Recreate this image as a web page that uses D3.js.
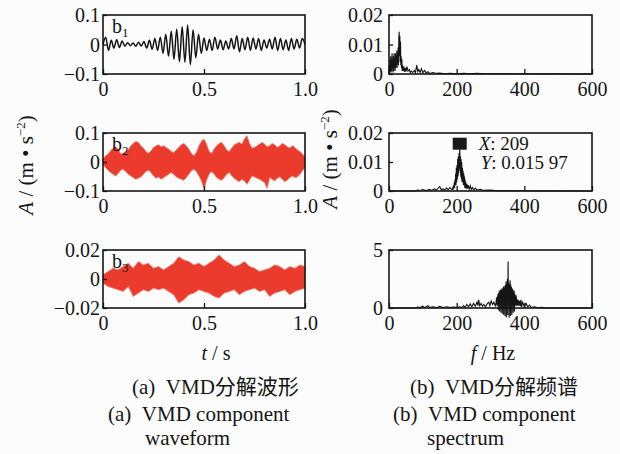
<!DOCTYPE html>
<html>
<head>
<meta charset="utf-8">
<script src="https://cdnjs.cloudflare.com/ajax/libs/d3/7.8.5/d3.min.js"></script>
<style>
body{margin:0;background:#fcfcfc;}
svg{display:block;font-family:"Liberation Serif","Times New Roman","Noto Sans CJK SC",serif;}
</style>
</head>
<body>
<script>
(function(){
'use strict';

// tick values and labels
var timeTicks = [0, 0.5, 1.0];
var timeTickLabels = ['0', '0.5', '1.0'];
var freqTicks = [0, 200, 400, 600];
var freqTickLabels = ['0', '200', '400', '600'];
var waveTicks12 = [-0.1, 0, 0.1];
var waveTickLabels12 = ['\u22120.1', '0', '0.1'];
var waveTicks3 = [-0.02, 0, 0.02];
var waveTickLabels3 = ['\u22120.02', '0', '0.02'];
var specTicks12 = [0, 0.01, 0.02];
var specTickLabels12 = ['0', '0.01', '0.02'];
var specTicks3 = [0, 5];
var specTickLabels3 = ['0', '5'];

// b1 waveform: successive peaks / troughs, evenly spread over 0..1 s
var b1Wave = [0, 0.025, -0.02, 0.014, -0.012, 0.016, -0.01, 0.012, -0.006, 0.006,
	-0.004, 0.005, -0.006, 0.008, -0.005, 0.01, -0.012, 0.014, -0.016, 0.02,
	-0.02, 0.025, -0.03, 0.035, -0.04, 0.045, -0.05, 0.052, -0.058, 0.06,
	-0.06, 0.066, -0.068, 0.05, -0.045, 0.035, -0.03, 0.022, -0.02, 0.018,
	-0.02, 0.025, -0.015, 0.015, -0.018, 0.012, -0.015, 0.02, -0.015, 0.03,
	-0.025, 0.02, -0.018, 0.025, -0.02, 0.022, -0.015, 0.02, -0.02, 0.015,
	-0.012, 0.018, -0.015, 0.025, -0.02, 0.02, -0.018, 0.015, -0.02, 0.02,
	-0.015, 0.018, -0.012, 0.02, 0];

// b2 waveform: upper and lower envelope every 0.0125 s
var b2Upper = [0.0098, 0.0214, 0.0272, 0.0387, 0.0480, 0.0526, 0.0445, 0.0272, 0.0295, 0.0364,
	0.0410, 0.0561, 0.0642, 0.0711, 0.0676, 0.0561, 0.0480, 0.0364, 0.0295, 0.0387,
	0.0503, 0.0561, 0.0595, 0.0526, 0.0561, 0.0503, 0.0445, 0.0364, 0.0329, 0.0410,
	0.0503, 0.0595, 0.0642, 0.0561, 0.0445, 0.0295, 0.0214, 0.0329, 0.0561, 0.0711,
	0.0792, 0.0618, 0.0364, 0.0295, 0.0445, 0.0561, 0.0642, 0.0676, 0.0561, 0.0410,
	0.0364, 0.0480, 0.0595, 0.0642, 0.0676, 0.0618, 0.0792, 0.0908, 0.0642, 0.0480,
	0.0503, 0.0561, 0.0618, 0.0676, 0.0618, 0.0526, 0.0561, 0.0642, 0.0595, 0.0503,
	0.0561, 0.0642, 0.0595, 0.0526, 0.0480, 0.0561, 0.0503, 0.0410, 0.0364, 0.0272, 0.0179];
var b2Lower = [-0.0075, -0.0191, -0.0283, -0.0364, -0.0422, -0.0480, -0.0399, -0.0283, -0.0249, -0.0329,
	-0.0422, -0.0480, -0.0538, -0.0595, -0.0561, -0.0514, -0.0422, -0.0329, -0.0283, -0.0364,
	-0.0480, -0.0561, -0.0514, -0.0595, -0.0538, -0.0480, -0.0422, -0.0364, -0.0422, -0.0514,
	-0.0561, -0.0595, -0.0630, -0.0538, -0.0422, -0.0306, -0.0249, -0.0329, -0.0480, -0.0653,
	-0.0942, -0.0630, -0.0422, -0.0329, -0.0422, -0.0538, -0.0595, -0.0630, -0.0538, -0.0422,
	-0.0364, -0.0480, -0.0561, -0.0630, -0.0676, -0.0595, -0.0653, -0.0769, -0.0630, -0.0480,
	-0.0514, -0.0561, -0.0595, -0.0653, -0.0711, -0.0908, -0.0538, -0.0595, -0.0653, -0.0561,
	-0.0514, -0.0595, -0.0676, -0.0630, -0.0538, -0.0480, -0.0538, -0.0514, -0.0422, -0.0306, -0.0191];

// b3 waveform: upper and lower envelope every 0.025 s
var b3Upper = [0.0029, 0.0051, 0.0074, 0.0063, 0.0086, 0.0109, 0.0074, 0.0120, 0.0097, 0.0109,
	0.0074, 0.0086, 0.0063, 0.0086, 0.0109, 0.0154, 0.0131, 0.0120, 0.0097, 0.0109,
	0.0086, 0.0109, 0.0131, 0.0166, 0.0131, 0.0109, 0.0086, 0.0097, 0.0120, 0.0086,
	0.0074, 0.0051, 0.0063, 0.0074, 0.0097, 0.0086, 0.0063, 0.0086, 0.0074, 0.0097, 0.0086];
var b3Lower = [-0.0029, -0.0051, -0.0063, -0.0074, -0.0086, -0.0051, -0.0120, -0.0097, -0.0074, -0.0086,
	-0.0063, -0.0074, -0.0063, -0.0086, -0.0109, -0.0166, -0.0143, -0.0109, -0.0097, -0.0074,
	-0.0086, -0.0097, -0.0120, -0.0131, -0.0097, -0.0086, -0.0074, -0.0109, -0.0086, -0.0074,
	-0.0063, -0.0086, -0.0074, -0.0120, -0.0097, -0.0086, -0.0074, -0.0109, -0.0086, -0.0074, -0.0063];

// spectra: [frequency Hz, amplitude]
var b1Spec = [[0,0],[1,0.003],[2,0.0005],[3,0.005],[4,0.001],[5,0.006],[6,0.0005],[7,0.004],
	[8,0.001],[9,0.007],[10,0.002],[11,0.005],[12,0.0005],[13,0.006],[14,0.001],[15,0.007],
	[16,0.002],[17,0.005],[18,0.001],[19,0.007],[20,0.002],[21,0.006],[22,0.003],[23,0.008],
	[24,0.002],[25,0.007],[26,0.004],[27,0.009],[28,0.003],[29,0.012],[30,0.0143],[31,0.006],
	[32,0.013],[33,0.004],[34,0.011],[35,0.003],[36,0.006],[37,0.002],[38,0.005],[39,0.001],
	[40,0.003],[42,0.001],[44,0.0025],[46,0.0008],[48,0.002],[50,0.0008],[53,0.0025],[56,0.001],
	[60,0.0015],[63,0.0005],[66,0.001],[70,0.0005],[75,0.0012],[78,0.0004],[82,0.003],[85,0.0008],
	[88,0.0015],[92,0.0005],[96,0.0018],[100,0.0004],[105,0.0012],[110,0.0003],[115,0.0008],
	[120,0.0002],[130,0.0005],[140,0.0002],[150,0.0003],[165,0.0001],[180,0.0002],[200,0.0001],
	[220,0.0002],[240,0.0001],[260,0.0002],[280,0.0001],[600,0]];
var b2Spec = [[0,0],[80,0],[85,0.0004],[90,0.0001],[100,0.0005],[110,0.0002],[120,0.0006],[125,0.0002],
	[135,0.0007],[140,0.0003],[150,0.0015],[155,0.0004],[160,0.0008],[165,0.0003],[170,0.001],
	[175,0.0004],[180,0.0012],[185,0.0006],[188,0.0005],[189,0.0015],[190,0.0005],[191,0.002],
	[192,0.001],[193,0.003],[194,0.001],[195,0.004],[196,0.002],[197,0.006],[198,0.002],[199,0.008],
	[200,0.003],[201,0.009],[202,0.004],[203,0.011],[204,0.005],[205,0.012],[206,0.006],[207,0.013],
	[208,0.008],[209,0.01597],[210,0.007],[211,0.012],[212,0.005],[213,0.011],[214,0.004],[215,0.01],
	[216,0.003],[217,0.008],[218,0.003],[219,0.007],[220,0.002],[221,0.006],[222,0.002],[223,0.005],
	[224,0.001],[225,0.004],[226,0.001],[227,0.003],[228,0.0008],[230,0.0025],[232,0.0008],
	[234,0.002],[237,0.0006],[240,0.0018],[243,0.0005],[246,0.0012],[250,0.0004],[255,0.001],
	[260,0.0003],[270,0.0006],[280,0.0002],[300,0.0003],[320,0.0001],[350,0.0001],[600,0]];
var b3Spec = [[0,0],[80,0],[85,0.1],[90,0.02],[100,0.15],[105,0.03],[115,0.2],[120,0.05],[130,0.1],
	[140,0.03],[150,0.15],[160,0.05],[170,0.1],[180,0.03],[190,0.08],[200,0.05],[210,0.1],[215,0.02],
	[220,0.2],[225,0.05],[230,0.3],[235,0.1],[240,0.35],[245,0.1],[250,0.4],[255,0.15],[260,0.5],
	[263,0.2],[265,0.7],[268,0.2],[272,0.4],[276,0.15],[280,0.3],[285,0.1],[290,0.35],[295,0.5],
	[298,0.2],[302,0.6],[306,0.3],[310,0.5],[314,0.2],[316,0.4],[318,0.9],[319,0.2],[320,1.0],
	[321,0.3],[322,1.2],[323,-0.2],[324,1.3],[325,0.4],[326,1.5],[327,-0.3],[328,1.4],[329,0.5],
	[330,1.6],[331,-0.4],[332,1.5],[333,0.6],[334,1.7],[335,-0.5],[336,1.6],[337,0.5],[338,1.8],
	[339,-0.6],[340,1.9],[341,0.6],[342,1.7],[343,-0.7],[344,2.0],[345,0.8],[346,2.3],[347,-0.8],
	[348,2.1],[349,0.7],[350,2.5],[351,-0.6],[352,4.0],[353,0.8],[354,2.2],[355,-0.85],[356,2.0],
	[357,0.7],[358,2.4],[359,-0.7],[360,2.0],[361,0.6],[362,1.8],[363,-0.6],[364,1.7],[365,0.5],
	[366,1.6],[367,-0.4],[368,1.4],[369,0.4],[370,1.5],[371,-0.3],[372,1.2],[373,0.3],[374,1.0],
	[375,0.2],[376,1.1],[377,0.2],[378,0.8],[380,0.2],[382,0.7],[384,0.2],[386,0.6],[388,0.15],
	[390,0.7],[392,0.1],[395,0.5],[400,0.1],[405,0.4],[410,0.1],[415,0.25],[420,0.05],[430,0.1],
	[440,0.02],[450,0.05],[460,0],[600,0]];

var peakFreq = 209;
var peakAmp = 0.01597;

var red = '#eb3b2d';
var ink = '#151515';

var svg = d3.select('body').append('svg')
	.attr('width', 620)
	.attr('height', 454);

var leftX = 103, rightX = 389;
var leftW = 202, rightW = 203;
var rowY = [15, 133, 250];
var rowH = 58;

function makePanel(x0, y0){
	return svg.append('g').attr('transform', 'translate(' + x0 + ',' + y0 + ')');
}

function drawAxes(g, xs, ys, w, h, xt, xl, yt, yl, yPad){
	var ax = g.append('g')
		.attr('transform', 'translate(0,' + h + ')')
		.call(d3.axisBottom(xs).tickValues(xt).tickFormat(function(d, i){ return xl[i]; })
			.tickSizeInner(-5).tickSizeOuter(0).tickPadding(8));
	var ay = g.append('g')
		.call(d3.axisLeft(ys).tickValues(yt).tickFormat(function(d, i){ return yl[i]; })
			.tickSizeInner(-4).tickSizeOuter(0).tickPadding(yPad));
	[ax, ay].forEach(function(a){
		a.select('.domain').remove();
		a.selectAll('line').attr('stroke', ink).attr('stroke-width', 1.3);
		a.selectAll('text').attr('fill', ink).style('font-size', '20px')
			.style('font-family', '"Liberation Serif", serif');
	});
	ay.selectAll('text').attr('dy', '0.34em');
	g.append('rect')
		.attr('width', w).attr('height', h)
		.attr('fill', 'none').attr('stroke', ink).attr('stroke-width', 1.6);
}

function panelLabel(g, sub){
	var t = g.append('text').attr('x', 9).attr('y', 18)
		.attr('fill', ink).style('font-size', '20px');
	t.append('tspan').text('b');
	t.append('tspan').attr('dy', 4).style('font-size', '13px').text(sub);
}

// ----- waveforms -----
var xt = d3.scaleLinear().domain([0, 1]).range([0, leftW]);

// b1
var g1 = makePanel(leftX, rowY[0]);
var y1 = d3.scaleLinear().domain([-0.1, 0.1]).range([rowH + 1, 0]);
g1.append('path')
	.datum(b1Wave)
	.attr('d', d3.line()
		.x(function(d, i){ return xt(i / (b1Wave.length - 1)); })
		.y(function(d){ return y1(d); })
		.curve(d3.curveMonotoneX))
	.attr('fill', 'none').attr('stroke', ink).attr('stroke-width', 1.5);
panelLabel(g1, '1');
drawAxes(g1, xt, y1, leftW, rowH + 1, timeTicks, timeTickLabels, waveTicks12, waveTickLabels12, 3);

function envelope(g, ys, upper, lower){
	var step = 1 / (upper.length - 1);
	var area = d3.area()
		.x(function(d, i){ return xt(i * step); })
		.y0(function(d, i){ return ys(lower[i]); })
		.y1(function(d){ return ys(d); });
	g.append('path')
		.datum(upper)
		.attr('d', area)
		.attr('fill', red)
		.attr('stroke', '#f07a6c').attr('stroke-width', 0.8);
}

// b2
var g2 = makePanel(leftX, rowY[1]);
var y2 = d3.scaleLinear().domain([-0.1, 0.1]).range([rowH, 0]);
envelope(g2, y2, b2Upper, b2Lower);
panelLabel(g2, '2');
drawAxes(g2, xt, y2, leftW, rowH, timeTicks, timeTickLabels, waveTicks12, waveTickLabels12, 3);

// b3
var g3 = makePanel(leftX, rowY[2]);
var y3 = d3.scaleLinear().domain([-0.02, 0.02]).range([rowH, 0]);
envelope(g3, y3, b3Upper, b3Lower);
panelLabel(g3, '3');
drawAxes(g3, xt, y3, leftW, rowH, timeTicks, timeTickLabels, waveTicks3, waveTickLabels3, 3);

// ----- spectra -----
var xf = d3.scaleLinear().domain([0, 600]).range([0, rightW]);

function spectrum(g, ys, data){
	g.append('path')
		.datum(data)
		.attr('d', d3.line()
			.x(function(d){ return xf(d[0]); })
			.y(function(d){ return ys(d[1]); }))
		.attr('fill', 'none').attr('stroke', ink).attr('stroke-width', 1.1);
}

var s1 = makePanel(rightX, rowY[0]);
var sy1 = d3.scaleLinear().domain([0, 0.02]).range([rowH + 1, 0]);
spectrum(s1, sy1, b1Spec);
drawAxes(s1, xf, sy1, rightW, rowH + 1, freqTicks, freqTickLabels, specTicks12, specTickLabels12, 6);

var s2 = makePanel(rightX, rowY[1]);
var sy2 = d3.scaleLinear().domain([0, 0.02]).range([rowH, 0]);
spectrum(s2, sy2, b2Spec);
drawAxes(s2, xf, sy2, rightW, rowH, freqTicks, freqTickLabels, specTicks12, specTickLabels12, 6);
s2.append('rect')
	.attr('x', xf(peakFreq) - 7).attr('y', sy2(peakAmp) - 7)
	.attr('width', 14).attr('height', 12)
	.attr('fill', '#1a1a1a');
var tx = s2.append('text').attr('x', xf(peakFreq) + 19).attr('y', 17)
	.attr('fill', ink).style('font-size', '19px');
tx.append('tspan').style('font-style', 'italic').text('X');
tx.append('tspan').text(': ' + peakFreq);
var ty = s2.append('text').attr('x', xf(peakFreq) + 21).attr('y', 36)
	.attr('fill', ink).style('font-size', '19px');
ty.append('tspan').style('font-style', 'italic').text('Y');
ty.append('tspan').text(': 0.015 97');

var s3 = makePanel(rightX, rowY[2]);
var sy3 = d3.scaleLinear().domain([0, 5]).range([rowH, 0]);
spectrum(s3, sy3, b3Spec);
drawAxes(s3, xf, sy3, rightW, rowH, freqTicks, freqTickLabels, specTicks3, specTickLabels3, 6);

// ----- axis titles and captions -----
function yTitle(x, y){
	var t = svg.append('text')
		.attr('transform', 'translate(' + x + ',' + y + ') rotate(-90)')
		.attr('text-anchor', 'middle')
		.attr('fill', ink).style('font-size', '21px');
	t.append('tspan').style('font-style', 'italic').text('A');
	t.append('tspan').text(' / (m \u2022 s');
	t.append('tspan').attr('dy', -8).style('font-size', '13px').text('\u22122');
	t.append('tspan').attr('dy', 8).text(')');
}
yTitle(33, 165);
yTitle(337, 159);

function xTitle(x, y, v, unit){
	var t = svg.append('text').attr('x', x).attr('y', y)
		.attr('text-anchor', 'middle').attr('fill', ink).style('font-size', '20px');
	t.append('tspan').style('font-style', 'italic').text(v);
	t.append('tspan').text(' / ' + unit);
}
xTitle(216, 360, 't', 's');
xTitle(493, 360, 'f', 'Hz');

var captions = [
	{x: 132, y: 394, t: '(a)\u00a0\u00a0VMD\u5206\u89e3\u6ce2\u5f62'},
	{x: 410, y: 394, t: '(b)\u00a0\u00a0VMD\u5206\u89e3\u9891\u8c31'},
	{x: 108, y: 421, t: '(a)\u00a0\u00a0VMD component'},
	{x: 145, y: 445, t: 'waveform'},
	{x: 393, y: 421, t: '(b)\u00a0\u00a0VMD component'},
	{x: 427, y: 445, t: 'spectrum'}
];
svg.selectAll('text.cap')
	.data(captions)
	.enter()
	.append('text')
	.attr('class', 'cap')
	.attr('x', function(d){ return d.x; })
	.attr('y', function(d){ return d.y; })
	.attr('fill', ink)
	.style('font-size', '21px')
	.text(function(d){ return d.t; });

})();
</script>
</body>
</html>
